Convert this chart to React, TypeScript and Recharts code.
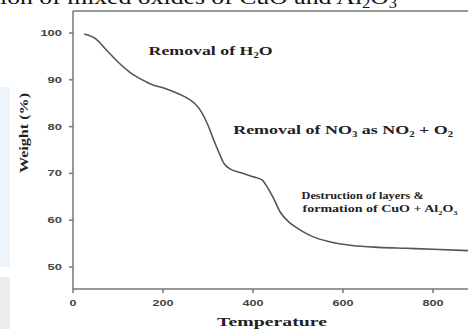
import React from 'react';
import { LineChart, Line, XAxis, YAxis, ReferenceLine, ReferenceDot } from 'recharts';

// TGA curve
const temps = [25, 50, 75, 100, 125, 150, 175, 200, 225, 250, 270, 285, 300, 312, 325, 335, 350, 375, 400, 420, 432, 445, 460, 480, 500, 530, 570, 620, 680, 740, 800, 880];
const weights = [99.8, 98.8, 96.3, 93.8, 91.7, 90.2, 89.0, 88.3, 87.4, 86.3, 85.0, 83.2, 80.3, 77.3, 74.3, 72.2, 70.9, 70.1, 69.3, 68.6, 67.0, 64.8, 61.8, 59.6, 58.2, 56.6, 55.4, 54.6, 54.2, 54.0, 53.8, 53.5];

const xTicks = [0, 200, 400, 600, 800];
const yTicks = [50, 60, 70, 80, 90, 100];
const xDomain = [0, 900];
const yDomain = [45.3, 104.7];

const data = temps.map((t, i) => ({ t, w: weights[i] }));

const serif = '"Liberation Serif", "DejaVu Serif", serif';
const sans = '"Liberation Sans", Arial, sans-serif';

type Note = { t: number; w: number; size: number; len: number; parts: [string, boolean][] };

const notes: Note[] = [
  { t: 168, w: 95.3, size: 12, len: 124, parts: [['Removal of H', false], ['2', true], ['O', false]] },
  { t: 356, w: 78.4, size: 12.5, len: 220, parts: [['Removal of NO', false], ['3', true], [' as NO', false], ['2', true], [' + O', false], ['2', true]] },
  { t: 508, w: 64.5, size: 9.5, len: 122, parts: [['Destruction of layers &', false]] },
  { t: 510, w: 61.8, size: 9.5, len: 155, parts: [['formation of CuO + Al', false], ['2', true], ['O', false], ['3', true]] },
];

const YTick = (props: any) => {
  const { x, y, payload } = props;
  const s = String(payload.value);
  return (
    <text x={x - 5} y={y + 3} textAnchor="end" fontFamily={sans} fontWeight="bold" fontSize={9}
      fill="#444" textLength={s.length * 7.2} lengthAdjust="spacingAndGlyphs">{s}</text>
  );
};

const XTick = (props: any) => {
  const { x, y, payload } = props;
  const s = String(payload.value);
  return (
    <text x={x} y={y + 11} textAnchor="middle" fontFamily={sans} fontWeight="bold" fontSize={9}
      fill="#444" textLength={s.length * 7} lengthAdjust="spacingAndGlyphs">{s}</text>
  );
};

const noteLabel = (n: Note) => (props: any) => {
  const vb = props.viewBox || {};
  return (
    <text x={vb.x} y={vb.y} fontFamily={serif} fontWeight="bold" fontSize={n.size} fill="#222"
      textLength={n.len} lengthAdjust="spacingAndGlyphs">
      {n.parts.map(([txt, sub], i) => (
        <tspan key={i} fontSize={sub ? n.size * 0.6 : n.size} dy={sub ? 3 : (i > 0 && n.parts[i - 1][1] ? -3 : 0)}>{txt}</tspan>
      ))}
    </text>
  );
};

export default function App() {
  return (
    <div style={{ position: 'absolute', left: 0, top: 0, width: 468, height: 329, overflow: 'hidden', background: '#fff' }}>
      <div style={{ position: 'absolute', left: 0, top: 87, width: 10, height: 180, background: '#eef6fb' }} />
      <div style={{ position: 'absolute', left: 0, top: 277, width: 10, height: 52, background: '#ececec' }} />
      <svg style={{ position: 'absolute', left: 0, top: 0 }} width={468} height={12}>
        <text x={0} y={4} fontFamily={serif} fontSize={22} fill="#111" textLength={397} lengthAdjust="spacingAndGlyphs">
          ion of mixed oxides of CuO and Al<tspan fontSize={14} dy={4}>2</tspan><tspan dy={-4}>O</tspan><tspan fontSize={14} dy={4}>3</tspan>
        </text>
      </svg>
      <div style={{ position: 'absolute', left: 0, top: 0 }}>
        <LineChart width={478} height={329} data={data} margin={{ top: 11, right: 0, bottom: 0, left: 0 }}>
          <XAxis dataKey="t" type="number" domain={xDomain} ticks={xTicks} allowDataOverflow
            stroke="#777" strokeWidth={1.5} tickSize={4} height={40} tick={<XTick />}
            label={{ content: () => (
              <text x={272} y={326} textAnchor="middle" fontFamily={serif} fontWeight="bold" fontSize={12}
                fill="#222" textLength={110} lengthAdjust="spacingAndGlyphs">Temperature</text>
            ) }} />
          <YAxis type="number" domain={yDomain} ticks={yTicks} allowDataOverflow width={73}
            stroke="#777" strokeWidth={1.5} tickSize={4} tick={<YTick />}
            label={{ content: () => (
              <text x={28} y={133} transform="rotate(-90 28 133)" textAnchor="middle" fontFamily={serif}
                fontWeight="bold" fontSize={12} fill="#222" textLength={80} lengthAdjust="spacingAndGlyphs">Weight (%)</text>
            ) }} />
          <ReferenceLine y={yDomain[1]} stroke="#777" strokeWidth={1.5} ifOverflow="visible" />
          <Line type="monotone" dataKey="w" stroke="#555" strokeWidth={1.6} dot={false} isAnimationActive={false} />
          {notes.map((n, i) => (
            <ReferenceDot key={i} x={n.t} y={n.w} r={0} stroke="none" fill="none" ifOverflow="visible" label={{ content: noteLabel(n) }} />
          ))}
        </LineChart>
      </div>
    </div>
  );
}
